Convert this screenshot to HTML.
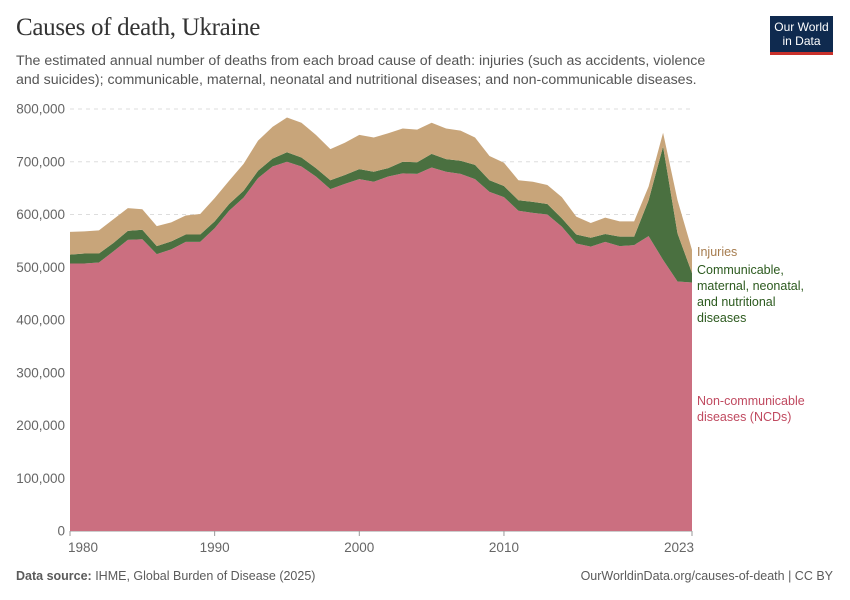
<!DOCTYPE html>
<html><head><meta charset="utf-8">
<style>
body{margin:0;background:#fff;font-family:"Liberation Sans",sans-serif;}
#wrap{position:relative;width:850px;height:600px;overflow:hidden;}
.title{position:absolute;left:16px;top:14px;font-family:"Liberation Serif",serif;font-size:25px;color:#333;letter-spacing:-0.3px;}
.sub{position:absolute;left:16px;top:52px;width:690px;font-size:14.2px;line-height:19px;color:#555;}
.logo{position:absolute;left:770px;top:16px;width:63px;background:#0f2a4f;border-bottom:3px solid #c9312b;color:#fff;font-size:12px;line-height:14px;text-align:center;padding-top:4px;box-sizing:content-box;height:32px;}
.foot{position:absolute;top:569px;font-size:12.5px;color:#5b5b5b;}
</style></head><body>
<div id="wrap">
<div class="title">Causes of death, Ukraine</div>
<div class="sub">The estimated annual number of deaths from each broad cause of death: injuries (such as accidents, violence and suicides); communicable, maternal, neonatal and nutritional diseases; and non-communicable diseases.</div>
<div class="logo">Our World<br>in Data</div>
<svg id="chart" width="850" height="600" style="position:absolute;left:0;top:0"></svg>
<div class="foot" style="left:16px"><b>Data source:</b> IHME, Global Burden of Disease (2025)</div>
<div class="foot" style="right:17px">OurWorldinData.org/causes-of-death | CC BY</div>
</div>
<script>
const years=[1980,1981,1982,1983,1984,1985,1986,1987,1988,1989,1990,1991,1992,1993,1994,1995,1996,1997,1998,1999,2000,2001,2002,2003,2004,2005,2006,2007,2008,2009,2010,2011,2012,2013,2014,2015,2016,2017,2018,2019,2020,2021,2022,2023];
const ncd=[507,507,509,530,552,553,525,534,548,548,574,607,632,669,691,700,691,672,648,658,667,662,672,678,677,689,681,677,667,643,633,607,603,600,577,545,539,548,540,542,559,514,473,471];
const comm=[17,19,17,16,17,18,15,15,14,14,13,13,13,14,15,18,17,16,17,17,19,19,16,22,22,26,24,25,27,22,21,20,21,20,16,17,17,15,18,16,68,215,91,18];
const inj=[43,42,44,45,43,39,38,36,36,39,44,44,51,57,60,66,66,63,59,61,65,65,66,63,62,59,58,57,52,46,44,38,38,36,40,34,28,31,29,29,26,26,63,44];
const yTicks=[0,100000,200000,300000,400000,500000,600000,700000,800000];
const xTicks=[1980,1990,2000,2010,2023];
const NS="http://www.w3.org/2000/svg";
const svg=document.getElementById('chart');
const x0=70,x1=692,yb=531,yt=109;
const X=y=>x0+(y-1980)/(2023-1980)*(x1-x0);
const Y=v=>yb-v/800000*(yb-yt);
function mk(t,a){const e=document.createElementNS(NS,t);for(const k in a)e.setAttribute(k,a[k]);svg.appendChild(e);return e;}
yTicks.forEach(v=>{
  const l=mk('line',{x1:x0,x2:x1,y1:Y(v),y2:Y(v),stroke:v?'#ddd':'#999','stroke-dasharray':v?'4,4':''});
  
  
  const t=mk('text',{x:65,y:Y(v)+4.5,'text-anchor':'end','font-size':'13.5','fill':'#666','font-family':'Liberation Sans'});
  t.textContent=v.toLocaleString('en-US');
  
  
});
const lo0=ncd.map(()=>0), lo1=ncd, lo2=ncd.map((v,i)=>v+comm[i]), lo3=lo2.map((v,i)=>v+inj[i]);
function area(lo,hi,fill,name){
  let d='M'+years.map((y,i)=>X(y)+','+Y(hi[i]*1000)).join('L');
  d+='L'+years.map((y,i)=>[X(y),Y(lo[i]*1000)]).reverse().map(p=>p.join(',')).join('L')+'Z';
  const p=mk('path',{d:d,fill:fill});
  
  
}
area(lo0,lo1,'#cb6f80','area-ncd');
area(lo1,lo2,'#4a7040','area-communicable');
area(lo2,lo3,'#c8a57a','area-injuries');
xTicks.forEach(y=>{
  const t=mk('text',{x:X(y),y:552,'text-anchor':y==1980?'start':(y==2023?'end':'middle'),'font-size':'13.5','fill':'#666','font-family':'Liberation Sans'});
  if(y==1980)t.setAttribute('x',X(y)-2);
  if(y==2023)t.setAttribute('x',X(y)+2);
  t.textContent=y;
  
  
  const k=mk('line',{x1:X(y),x2:X(y),y1:yb,y2:yb+5,stroke:'#999'});
  
  
});
const legends=[
 {lines:['Injuries'],y:256,c:'#a67c4e',n:'legend-injuries'},
 {lines:['Communicable,','maternal, neonatal,','and nutritional','diseases'],y:274,c:'#2c5a1e',n:'legend-communicable'},
 {lines:['Non-communicable','diseases (NCDs)'],y:405,c:'#c04a60',n:'legend-ncd'}];
legends.forEach(L=>{
  L.lines.forEach((s,i)=>{
    const t=mk('text',{x:697,y:L.y+i*16,'font-size':'12.5','fill':L.c,'font-family':'Liberation Sans'});
    t.textContent=s;
    
    
  });
});
</script>
</body></html>
